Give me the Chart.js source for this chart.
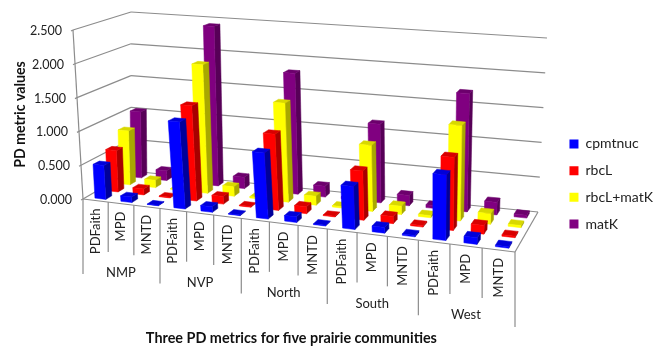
<!DOCTYPE html>
<html>
<head>
<meta charset="utf-8">
<title>PD metrics</title>
<script src="https://cdn.jsdelivr.net/npm/chart.js@4/dist/chart.umd.js"></script>
<style>
  html, body { margin: 0; padding: 0; background: #fff; }
  canvas { display: block; }
</style>
</head>
<body>
<canvas id="chart" width="663" height="358"></canvas>
<script>
const communities = ["NMP", "NVP", "North", "South", "West"];
const metrics = ["PDFaith", "MPD", "MNTD"];
const labels = communities.flatMap(() => metrics);
const seriesNames = ["cpmtnuc", "rbcL", "rbcL+matK", "matK"];

const cpmtnuc = [0.50, 0.08, 0.005, 1.26, 0.08, 0.01, 0.94, 0.08, 0.01, 0.60, 0.08, 0.02, 0.90, 0.09, 0.02];
const rbcL = [0.62, 0.09, 0.01, 1.40, 0.11, 0.01, 1.10, 0.10, 0.01, 0.70, 0.10, 0.02, 1.02, 0.12, 0.02];
const rbcLmatK = [0.82, 0.11, 0.01, 1.92, 0.14, 0.02, 1.45, 0.13, 0.02, 0.95, 0.12, 0.03, 1.35, 0.15, 0.03];
const matK = [1.02, 0.15, 0.01, 2.42, 0.17, 0.03, 1.80, 0.16, 0.03, 1.15, 0.15, 0.04, 1.70, 0.18, 0.04];

const front = ["#0000ff", "#ff0000", "#ffff00", "#800080"];
const side = ["#00009a", "#a80000", "#a8a800", "#570057"];
const top_ = ["#0000d8", "#d80000", "#d8d800", "#6c006c"];

// corners of the 3d box on screen, [front-left, front-right, back-right, back-left]
const floorQuad = [[83, 199], [515, 252], [538, 212], [131, 171]];
const roofQuad = [[73, 30], [525, 67], [547, 38], [131, 12]];

function homography(q) {
    const [[x0, y0], [x1, y1], [x2, y2], [x3, y3]] = q;
    const dx1 = x1 - x2, dx2 = x3 - x2, sx = x0 - x1 + x2 - x3;
    const dy1 = y1 - y2, dy2 = y3 - y2, sy = y0 - y1 + y2 - y3;
    const det = dx1 * dy2 - dx2 * dy1;
    const g = (sx * dy2 - dx2 * sy) / det;
    const h = (dx1 * sy - sx * dy1) / det;
    const a = x1 - x0 + g * x1, b = x3 - x0 + h * x3;
    const d = y1 - y0 + g * y1, e = y3 - y0 + h * y3;
    return (u, w) => {
        const n = g * u + h * w + 1;
        return [(a * u + b * w + x0) / n, (d * u + e * w + y0) / n];
    };
}
const floorMap = homography(floorQuad);
const roofMap = homography(roofQuad);

// the original's categories shrink less toward the left than the corners alone give
const AXIS_WARP = 1.118;
const BAR_WARP = 1.15;

// u along categories, w into the depth, v up the value axis, all 0..1
function project(u, w, v, warp = AXIS_WARP) {
    const uw = u * warp / (1 + (warp - 1) * u);
    const f = floorMap(uw, w), r = roofMap(uw, w);
    return [f[0] + (r[0] - f[0]) * v, f[1] + (r[1] - f[1]) * v];
}

function poly(ctx, pts, fill) {
    ctx.beginPath();
    pts.forEach((p, i) => i ? ctx.lineTo(p[0], p[1]) : ctx.moveTo(p[0], p[1]));
    ctx.closePath();
    ctx.fillStyle = fill;
    ctx.strokeStyle = fill;
    ctx.lineWidth = 0.5;
    ctx.fill();
    ctx.stroke();
}

const DEPTH_FILL = 0.48;
const BAR_SHIFT = 0.003; // bars sit a little right of the cell centre

class Bar3DController extends Chart.BarController {
    draw() {
        const area = this.chart.chartArea;
        const ctx = this.chart.ctx;
        const row = this.index;
        const w0 = (row + (1 - DEPTH_FILL) / 2) / seriesNames.length;
        const w1 = (row + (1 + DEPTH_FILL) / 2) / seriesNames.length;
        const at = (u, w, v) => project(u, w, v, BAR_WARP);
        this.getMeta().data.forEach(bar => {
            const u0 = (bar.x - bar.width / 2 - area.left) / area.width + BAR_SHIFT;
            const u1 = (bar.x + bar.width / 2 - area.left) / area.width + BAR_SHIFT;
            const v = (area.bottom - bar.y) / area.height;
            poly(ctx, [at(u1, w0, 0), at(u1, w1, 0), at(u1, w1, v), at(u1, w0, v)], side[row]);
            poly(ctx, [at(u0, w0, v), at(u1, w0, v), at(u1, w1, v), at(u0, w1, v)], top_[row]);
            poly(ctx, [at(u0, w0, 0), at(u1, w0, 0), at(u1, w0, v), at(u0, w0, v)], front[row]);
        });
    }
}
Bar3DController.id = "bar3d";
Bar3DController.defaults = Chart.BarController.defaults;
Bar3DController.overrides = Chart.BarController.overrides;
Chart.register(Bar3DController);

function line(ctx, a, b) {
    ctx.beginPath();
    ctx.moveTo(a[0], a[1]);
    ctx.lineTo(b[0], b[1]);
    ctx.stroke();
}

// walls, floor, and the tick labels which have to follow the slanted axes
const box3d = {
    id: "box3d",
    beforeDatasetsDraw(chart) {
        const ctx = chart.ctx, area = chart.chartArea, y = chart.scales.y, x = chart.scales.x;
        ctx.save();
        ctx.strokeStyle = "#8c8c8c";
        ctx.lineWidth = 1.2;
        ctx.fillStyle = "#222";

        ctx.font = "12.5px Lato";
        y.ticks.forEach(t => {
            const v = (area.bottom - y.getPixelForValue(t.value)) / area.height;
            const a = project(0, 0, v), b = project(0, 1, v), c = project(1, 1, v);
            line(ctx, [a[0] - 2, a[1] + 1], a);
            line(ctx, a, b);
            line(ctx, b, c);
            ctx.textAlign = "right";
            ctx.textBaseline = "middle";
            ctx.fillText(t.value.toFixed(3), a[0] - 11, a[1] + 1);
        });
        line(ctx, project(0, 0, 0), project(0, 0, 1));
        line(ctx, project(0, 0, 0), project(1, 0, 0));
        line(ctx, project(1, 0, 0), project(1, 1, 0));

        // category ticks hang straight down from the front edge
        const step = area.width / labels.length;
        const tickU = i => (x.getPixelForValue(i) - step / 2 - area.left) / area.width;
        for (let i = 0; i <= labels.length; i++) {
            const p = project(i < labels.length ? tickU(i) : 1, 0, 0);
            const major = i % metrics.length === 0;
            line(ctx, p, [p[0], p[1] + (major ? 75 : 50)]);
        }
        ctx.font = "13px Lato";
        labels.forEach((name, i) => {
            const p = project((x.getPixelForValue(i) - area.left) / area.width, 0, 0);
            ctx.save();
            ctx.translate(p[0], p[1] + 8);
            ctx.rotate(-Math.PI / 2);
            ctx.textAlign = "right";
            ctx.textBaseline = "middle";
            ctx.fillText(name, 0, 0);
            ctx.restore();
        });
        communities.forEach((name, i) => {
            const c = project((x.getPixelForValue(i * metrics.length + 1) - area.left) / area.width, 0, 0);
            ctx.textAlign = "center";
            ctx.textBaseline = "middle";
            ctx.fillText(name, c[0], c[1] + 69);
        });
        ctx.restore();
    }
};

new Chart(document.getElementById("chart"), {
    type: "bar3d",
    data: {
        labels,
        datasets: [cpmtnuc, rbcL, rbcLmatK, matK].map((data, i) => ({
            label: seriesNames[i],
            data,
            backgroundColor: front[i],
            borderWidth: 0,
            grouped: false,
            clip: false,
            categoryPercentage: 1,
            barPercentage: 0.42
        }))
    },
    options: {
        responsive: false,
        animation: false,
        layout: { padding: { top: 10 } },
        plugins: {
            tooltip: { enabled: false },
            legend: {
                position: "right",
                labels: {
                    boxWidth: 9,
                    boxHeight: 9,
                    padding: 12.7,
                    color: "#222",
                    font: { family: "Lato", size: 14 }
                }
            }
        },
        scales: {
            x: {
                grid: { display: false },
                border: { display: false },
                ticks: { display: false },
                title: {
                    display: true,
                    text: "Three PD metrics for five prairie communities",
                    color: "#111",
                    font: { family: "Lato", size: 14.4, weight: "bold" },
                    padding: { top: 0, bottom: 11 }
                },
                afterFit: s => { s.height = 159; }
            },
            y: {
                min: 0,
                max: 2.5,
                grid: { display: false },
                border: { display: false },
                ticks: { display: false, stepSize: 0.5 },
                title: {
                    display: true,
                    text: "PD metric values",
                    color: "#111",
                    font: { family: "Lato", size: 14.2, weight: "bold" },
                    padding: { top: 12, bottom: 0 }
                },
                afterFit: s => { s.width = 83; }
            },
            // empty axes, they only hold the gap to the legend and above the plot
            gapRight: {
                type: "linear",
                axis: "y",
                position: "right",
                grid: { display: false },
                border: { display: false },
                ticks: { display: false },
                afterFit: s => { s.width = 57; }
            },
            gapTop: {
                type: "category",
                axis: "x",
                position: "top",
                grid: { display: false },
                border: { display: false },
                ticks: { display: false },
                afterFit: s => { s.height = 20; }
            }
        }
    },
    plugins: [box3d]
});
</script>
</body>
</html>
